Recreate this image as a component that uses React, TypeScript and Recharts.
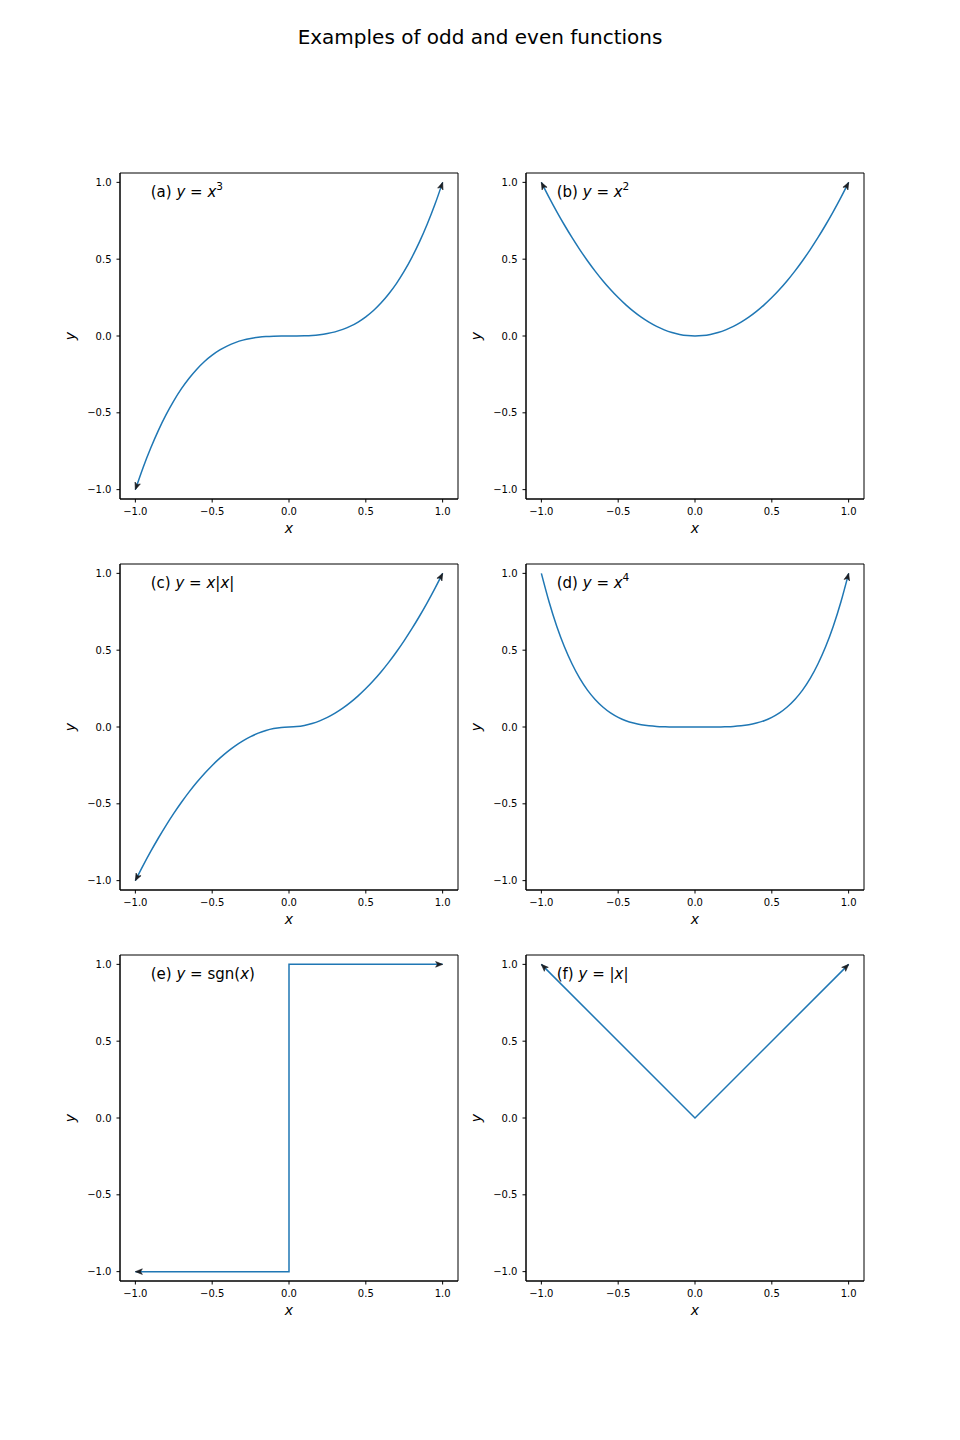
import { LineChart, Line, XAxis, YAxis, ReferenceDot, ReferenceArea } from 'recharts';

// sample points, x from -1 to 1 in steps of 0.05
const xs = [
  -1, -0.95, -0.9, -0.85, -0.8, -0.75, -0.7, -0.65, -0.6, -0.55, -0.5, -0.45, -0.4, -0.35, -0.3, -0.25, -0.2, -0.15, -0.1, -0.05,
  0, 0.05, 0.1, 0.15, 0.2, 0.25, 0.3, 0.35, 0.4, 0.45, 0.5, 0.55, 0.6, 0.65, 0.7, 0.75, 0.8, 0.85, 0.9, 0.95, 1,
];
const cubeY = [
  -1, -0.857, -0.729, -0.614, -0.512, -0.422, -0.343, -0.275, -0.216, -0.166, -0.125, -0.091, -0.064, -0.043, -0.027, -0.016, -0.008, -0.003, -0.001, 0,
  0, 0, 0.001, 0.003, 0.008, 0.016, 0.027, 0.043, 0.064, 0.091, 0.125, 0.166, 0.216, 0.275, 0.343, 0.422, 0.512, 0.614, 0.729, 0.857, 1,
];
const squareY = [
  1, 0.9025, 0.81, 0.7225, 0.64, 0.5625, 0.49, 0.4225, 0.36, 0.3025, 0.25, 0.2025, 0.16, 0.1225, 0.09, 0.0625, 0.04, 0.0225, 0.01, 0.0025,
  0, 0.0025, 0.01, 0.0225, 0.04, 0.0625, 0.09, 0.1225, 0.16, 0.2025, 0.25, 0.3025, 0.36, 0.4225, 0.49, 0.5625, 0.64, 0.7225, 0.81, 0.9025, 1,
];
const xAbsXY = [
  -1, -0.9025, -0.81, -0.7225, -0.64, -0.5625, -0.49, -0.4225, -0.36, -0.3025, -0.25, -0.2025, -0.16, -0.1225, -0.09, -0.0625, -0.04, -0.0225, -0.01, -0.0025,
  0, 0.0025, 0.01, 0.0225, 0.04, 0.0625, 0.09, 0.1225, 0.16, 0.2025, 0.25, 0.3025, 0.36, 0.4225, 0.49, 0.5625, 0.64, 0.7225, 0.81, 0.9025, 1,
];
const quartY = [
  1, 0.815, 0.656, 0.522, 0.41, 0.316, 0.24, 0.179, 0.13, 0.092, 0.063, 0.041, 0.026, 0.015, 0.008, 0.004, 0.002, 0.0005, 0.0001, 0,
  0, 0, 0.0001, 0.0005, 0.002, 0.004, 0.008, 0.015, 0.026, 0.041, 0.063, 0.092, 0.13, 0.179, 0.24, 0.316, 0.41, 0.522, 0.656, 0.815, 1,
];
const sgnX = [-1, 0, 0, 1];
const sgnY = [-1, -1, 1, 1];
const absX = [-1, 0, 1];
const absY = [1, 0, 1];

const xTicks = [-1, -0.5, 0, 0.5, 1];
const yTicks = [-1, -0.5, 0, 0.5, 1];

const FONT = '"DejaVu Sans", sans-serif';
const BLUE = '#1f77b4';
const X_DOMAIN: [number, number] = [-1.1, 1.1];
const Y_DOMAIN: [number, number] = [-1.061, 1.061];

type Seg = { t: string; i?: boolean; sup?: boolean };
type Pt = { x: number; y: number };

const zip = (a: number[], b: number[]): Pt[] => a.map((x, i) => ({ x, y: b[i] }));

const panels = [
  { id: 'a', data: zip(xs, cubeY), curve: 'natural', start: true, end: true, left: 60, top: 160,
    label: [{ t: '(a) ' }, { t: 'y', i: true }, { t: ' = ' }, { t: 'x', i: true }, { t: '3', sup: true }] },
  { id: 'b', data: zip(xs, squareY), curve: 'natural', start: true, end: true, left: 466, top: 160,
    label: [{ t: '(b) ' }, { t: 'y', i: true }, { t: ' = ' }, { t: 'x', i: true }, { t: '2', sup: true }] },
  { id: 'c', data: zip(xs, xAbsXY), curve: 'natural', start: true, end: true, left: 60, top: 551,
    label: [{ t: '(c) ' }, { t: 'y', i: true }, { t: ' = ' }, { t: 'x', i: true }, { t: '|' }, { t: 'x', i: true }, { t: '|' }] },
  { id: 'd', data: zip(xs, quartY), curve: 'natural', start: false, end: true, left: 466, top: 551,
    label: [{ t: '(d) ' }, { t: 'y', i: true }, { t: ' = ' }, { t: 'x', i: true }, { t: '4', sup: true }] },
  { id: 'e', data: zip(sgnX, sgnY), curve: 'linear', start: true, end: true, left: 60, top: 942,
    label: [{ t: '(e) ' }, { t: 'y', i: true }, { t: ' = sgn(' }, { t: 'x', i: true }, { t: ')' }] },
  { id: 'f', data: zip(absX, absY), curve: 'linear', start: true, end: true, left: 466, top: 942,
    label: [{ t: '(f) ' }, { t: 'y', i: true }, { t: ' = |' }, { t: 'x', i: true }, { t: '|' }] },
];

const fmt = (v: number) => (v < 0 ? '\u2212' : '') + Math.abs(v).toFixed(1);

// arrowhead drawn at the chosen ends, pointing along the last segment (axes are equal-scaled)
const arrowDot = (data: Pt[], start: boolean, end: boolean) => (props: any) => {
  const { cx, cy, index } = props;
  const n = data.length;
  let from: Pt | null = null;
  if (index === 0 && start) from = data[1];
  else if (index === n - 1 && end) from = data[n - 2];
  if (!from || cx == null) return <g key={`d${index}`} />;
  const p = data[index];
  const ang = (Math.atan2(-(p.y - from.y), p.x - from.x) * 180) / Math.PI;
  return (
    <path
      key={`d${index}`}
      d="M0,0 L-7,-2.8 L-5.2,0 L-7,2.8 Z"
      transform={`translate(${cx},${cy}) rotate(${ang})`}
      fill="#1b1f24"
      stroke="#1b1f24"
      strokeWidth={0.6}
    />
  );
};

const XLabel = (props: any) => {
  const vb = props.viewBox;
  return (
    <text x={vb.x + vb.width / 2} y={vb.y + 34} textAnchor="middle" fontFamily={FONT} fontSize={14} fontStyle="italic" fill="#000">
      x
    </text>
  );
};

const YLabel = (props: any) => {
  const vb = props.viewBox;
  const cy = vb.y + vb.height / 2;
  return (
    <text x={15} y={cy} textAnchor="middle" fontFamily={FONT} fontSize={14} fontStyle="italic" fill="#000" transform={`rotate(-90, 15, ${cy})`}>
      y
    </text>
  );
};

const annot = (segs: Seg[]) => (props: any) => (
  <text x={props.cx} y={props.cy} fontFamily={FONT} fontSize={15} fill="#000">
    {segs.map((s, k) => (
      <tspan
        key={k}
        fontStyle={s.i ? 'italic' : 'normal'}
        fontSize={s.sup ? 10.5 : 15}
        dy={s.sup ? -6.5 : k > 0 && segs[k - 1].sup ? 6.5 : 0}
      >
        {s.t}
      </tspan>
    ))}
  </text>
);

const tickStyle = { fill: '#000', fontSize: 10, fontFamily: FONT };

function Panel({ p }: { p: (typeof panels)[number] }) {
  return (
    <div style={{ position: 'absolute', left: p.left, top: p.top }}>
      <LineChart width={408} height={384} data={p.data} margin={{ top: 13, right: 10, bottom: 0, left: 0 }}>
        <XAxis
          type="number"
          dataKey="x"
          domain={X_DOMAIN}
          ticks={xTicks}
          tickFormatter={fmt}
          allowDataOverflow
          height={45}
          tickSize={3.5}
          tickMargin={5}
          tick={tickStyle}
          stroke="#000"
          label={XLabel}
        />
        <YAxis
          type="number"
          domain={Y_DOMAIN}
          ticks={yTicks}
          tickFormatter={fmt}
          allowDataOverflow
          width={60}
          tickSize={3.5}
          tickMargin={5}
          tick={tickStyle}
          stroke="#000"
          label={YLabel}
        />
        {/* full frame around the axes */}
        <ReferenceArea
          x1={X_DOMAIN[0]}
          x2={X_DOMAIN[1]}
          y1={Y_DOMAIN[0]}
          y2={Y_DOMAIN[1]}
          fill="none"
          fillOpacity={0}
          stroke="#000"
          strokeWidth={1}
          strokeOpacity={1}
          ifOverflow="visible"
        />
        <Line
          type={p.curve as any}
          dataKey="y"
          stroke={BLUE}
          strokeWidth={1.5}
          dot={arrowDot(p.data, p.start, p.end)}
          activeDot={false}
          isAnimationActive={false}
        />
        <ReferenceDot x={-0.9} y={0.907} r={0} shape={annot(p.label)} />
      </LineChart>
    </div>
  );
}

export default function App() {
  return (
    <div style={{ position: 'absolute', left: 0, top: 0, width: 960, height: 1440, background: '#fff', fontFamily: FONT }}>
      <div style={{ position: 'absolute', left: 0, top: 26, width: 960, textAlign: 'center', fontSize: 20, lineHeight: '23px', color: '#000' }}>
        Examples of odd and even functions
      </div>
      {panels.map((p) => (
        <Panel key={p.id} p={p} />
      ))}
    </div>
  );
}
